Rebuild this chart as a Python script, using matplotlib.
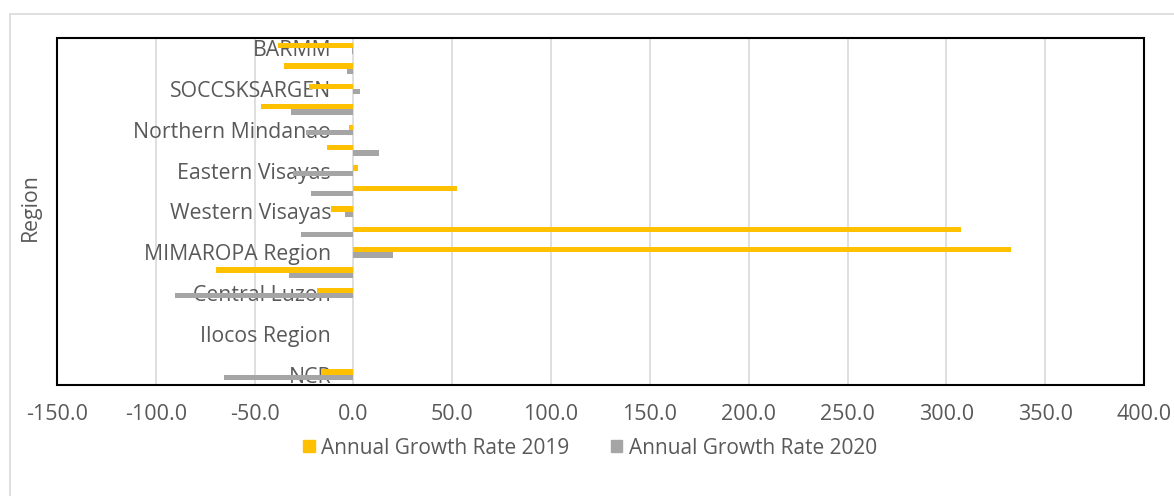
import numpy as np
import matplotlib.pyplot as plt
from matplotlib.patches import Patch, Rectangle

# regions, bottom to top
regions = ['NCR', 'CAR', 'Ilocos Region', 'Cagayan Valley', 'Central Luzon',
           'CALABARZON', 'MIMAROPA Region', 'Bicol Region', 'Western Visayas',
           'Central Visayas', 'Eastern Visayas', 'Zamboanga Peninsula',
           'Northern Mindanao', 'Davao Region', 'SOCCSKSARGEN', 'Caraga', 'BARMM']

growth_2019 = [-16.5, 0.0, 0.0, 0.0, -18.3, -69.5, 332.5, 307.5, -11.6, 52.5,
               2.5, -13.6, -2.3, -46.8, -22.6, -35.3, -38.2]
growth_2020 = [-65.5, 0.0, 0.0, 0.0, -90.5, -32.4, 20.0, -26.6, -4.3, -21.7,
               -30.5, 12.8, -24.0, -31.4, 3.5, -3.3, -0.6]

xticks = np.arange(-150, 401, 50)

yellow = '#FFC000'
grey = '#A5A5A5'
txt = '#595959'

plt.rcParams['font.family'] = ['Open Sans', 'DejaVu Sans']

fig = plt.figure(figsize=(11.74, 4.96), dpi=100)
W, H = 1174, 496
ax = fig.add_axes([57 / W, (H - 385) / H, (1144 - 57) / W, (385 - 38) / H])

# chart area border
fig.patches.append(Rectangle((10 / W, -0.1), 1.2, 1 - 14 / H + 0.1,
                             transform=fig.transFigure, fill=False,
                             edgecolor='#D9D9D9', linewidth=1.2))

y = np.arange(len(regions))
h = 0.26
ax.barh(y + h / 2, growth_2019, height=h, color=yellow, label='Annual Growth Rate 2019')
ax.barh(y - h / 2, growth_2020, height=h, color=grey, label='Annual Growth Rate 2020')

ax.set_xlim(-150, 400)
ax.set_ylim(-0.5, len(regions) - 0.5)
ax.set_xticks(xticks)
ax.set_xticklabels([f'{v:.1f}' for v in xticks])
ax.grid(axis='x', color='#D9D9D9', linewidth=1.2)
ax.set_axisbelow(True)

# category labels sit next to the zero line, every other region
ax.set_yticks(y[::2])
ax.set_yticklabels(regions[::2])
ax.spines['left'].set_position(('data', 0))
ax.spines['left'].set_visible(False)
for s in ['top', 'right', 'bottom']:
    ax.spines[s].set_visible(False)
ax.add_patch(Rectangle((0, 0), 1, 1, transform=ax.transAxes, fill=False,
                       edgecolor='black', linewidth=1.5, clip_on=False, zorder=3))

ax.tick_params(axis='y', length=0, pad=16, labelsize=15.3, labelcolor=txt)
ax.tick_params(axis='x', length=0, pad=14, labelsize=15.5, labelcolor=txt)

fig.text(30 / W, 1 - 207 / H, 'Region', rotation=90, ha='center', va='center',
         fontsize=15.3, color=txt)

handles = [Patch(color=yellow), Patch(color=grey)]
fig.legend(handles, ['Annual Growth Rate 2019', 'Annual Growth Rate 2020'],
           loc='center', bbox_to_anchor=(590 / W, 1 - 448 / H), ncol=2,
           frameon=False, fontsize=15, labelcolor=txt, handlelength=0.55,
           handleheight=0.55, handletextpad=0.3, columnspacing=2.0)

fig.savefig('out.png', dpi=100)
